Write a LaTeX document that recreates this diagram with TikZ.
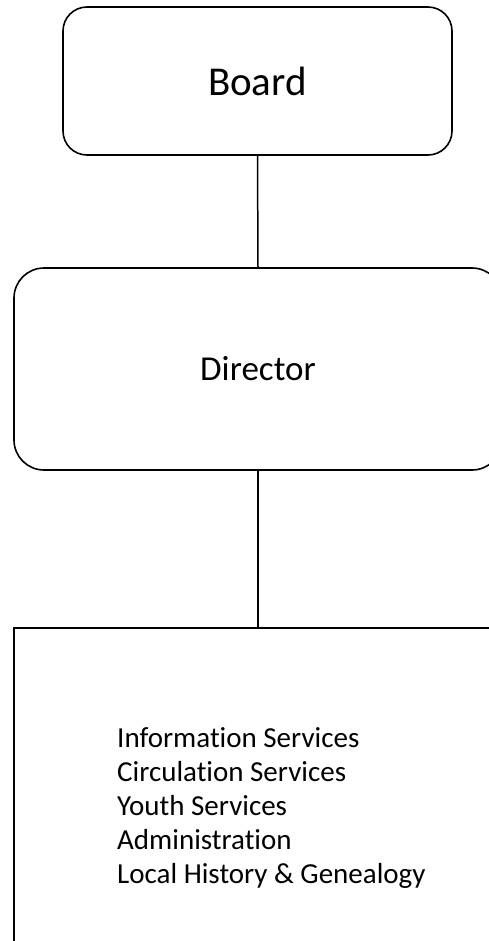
\documentclass[tikz,border=0pt]{standalone}
\usepackage{fontspec}
\setmainfont{Carlito}[Ligatures={NoCommon}]
\begin{document}
\begin{tikzpicture}[x=1pt,y=-1pt,
  rbox/.style={draw=black, line width=1.6pt, rounded corners=#1, inner sep=0pt},
  sbox/.style={draw=black, line width=1.6pt, inner sep=0pt},
  wire/.style={draw=black, line width=1.5pt},
  listtext/.style={inner sep=0pt, align=left, font=\fontsize{29}{34}\selectfont}]
\useasboundingbox (0,0) rectangle (489,941);
\clip (0,0) rectangle (489,941);
\node[rbox=24pt, minimum width=389pt, minimum height=148pt,
      font=\fontsize{41}{49}\selectfont] (board) at (257.5,81) {Board};
\node[rbox=30pt, minimum width=488pt, minimum height=202pt,
      font=\fontsize{35}{42}\selectfont] (director) at (258,369) {Director};
\node[sbox, minimum width=526pt, minimum height=372pt] (dept) at (277,814) {};
\node[listtext, anchor=north west] (list) at (117,727)
  {Information Services\\Circulation Services\\Youth Services\\Administration\\Local History \& Genealogy};
\draw[wire] (board.south) -- (director.north);
\draw[wire] (director.south) -- (director.south |- dept.north);
\end{tikzpicture}
\end{document}
